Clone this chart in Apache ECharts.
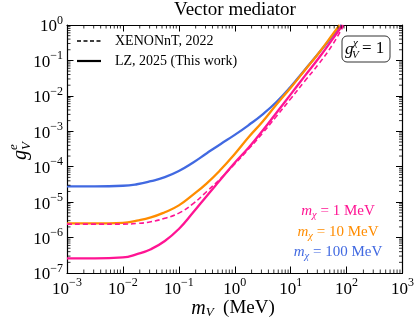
<!DOCTYPE html>
<html>
<head>
<meta charset="utf-8">
<script src="https://cdn.jsdelivr.net/npm/echarts@6/dist/echarts.min.js"></script>
<style>
  html, body { margin: 0; padding: 0; background: #fff; }
  #main { width: 417px; height: 324px; }
</style>
</head>
<body>
<div id="main"></div>
<script>
// m_V sample positions (MeV), quarter-decade steps
const mGrid = [0.001, 0.00316, 0.01, 0.0178, 0.0316, 0.0562, 0.1, 0.178, 0.316, 0.562, 1, 1.78, 3.16, 5.62, 10, 17.8, 31.6, 56.2]

// m_chi = 100 MeV (LZ)
const blueMv = [...mGrid, 80]
const blueG = [2.8e-5, 2.8e-5, 2.9e-5, 3.2e-5, 3.9e-5, 5.1e-5, 7.6e-5, 1.3e-4, 2.4e-4, 4.4e-4, 7.9e-4, 1.5e-3, 3.0e-3, 6.8e-3, 1.8e-2, 5.4e-2, 0.16, 0.49, 1.0]
// m_chi = 10 MeV (LZ)
const orangeMv = [...mGrid, 75]
const orangeG = [2.5e-6, 2.5e-6, 2.6e-6, 3.0e-6, 3.7e-6, 5.2e-6, 8.1e-6, 1.6e-5, 3.4e-5, 8.3e-5, 2.3e-4, 6.9e-4, 1.9e-3, 5.8e-3, 1.7e-2, 5.2e-2, 0.16, 0.54, 1.0]
// m_chi = 1 MeV (LZ)
const pinkMv = [...mGrid, 85]
const pinkG = [2.6e-7, 2.6e-7, 2.75e-7, 3.4e-7, 4.7e-7, 8.0e-7, 1.75e-6, 5.0e-6, 1.5e-5, 4.4e-5, 1.3e-4, 3.5e-4, 1.05e-3, 3.4e-3, 1.1e-2, 3.6e-2, 0.115, 0.40, 1.0]
// m_chi = 1 MeV (XENONnT, 2022)
const xenonMv = [...mGrid, 89]
const xenonG = [2.4e-6, 2.4e-6, 2.4e-6, 2.5e-6, 2.8e-6, 3.5e-6, 4.9e-6, 8.9e-6, 2.0e-5, 4.7e-5, 1.2e-4, 3.2e-4, 8.9e-4, 2.7e-3, 8.3e-3, 2.6e-2, 7.9e-2, 0.28, 1.0]

const xMin = 1e-3, xMax = 1e3
const yMin = 1e-7, yMax = 1

const SERIF = '"Liberation Serif", "DejaVu Serif", serif'
const PINK = '#ff1493', ORANGE = '#ff8c00', BLUE = '#4169e1'

const zip = (xs, ys) => xs.map((x, i) => [x, ys[i]])

// minor tick positions 2..9 x 10^k
function minorTicks(lo, hi) {
  const out = []
  for (let k = lo; k < hi; k++) for (let j = 2; j <= 9; j++) out.push(j * Math.pow(10, k))
  return out
}
const xMinor = minorTicks(-3, 3).map(v => [v, yMin])
const yMinor = minorTicks(-7, 0).map(v => [xMin, v])

function powLabel(v) {
  const e = Math.round(Math.log10(v))
  return '{b|10}{s|' + String(e).replace('-', '\u2212') + '}'
}
const labelRich = {
  b: { fontFamily: SERIF, fontSize: 17, color: '#000', lineHeight: 21, verticalAlign: 'bottom' },
  s: { fontFamily: SERIF, fontSize: 12, color: '#000', verticalAlign: 'top' },
}

const axisCommon = {
  type: 'log', logBase: 10,
  axisLine: { show: true, lineStyle: { color: '#000', width: 1.2 } },
  axisTick: { show: true, inside: true, length: 6.5, lineStyle: { color: '#000', width: 1 } },
  splitLine: { show: false },
  minorTick: { show: false },
}

function massLabel(text, y, color) {
  return { type: 'text', x: 338, y: y, style: { text: text, align: 'center', verticalAlign: 'middle',
    rich: { i: { fontFamily: SERIF, fontStyle: 'italic', fontSize: 15, fill: color, lineHeight: 17, verticalAlign: 'top' },
            u: { fontFamily: SERIF, fontStyle: 'italic', fontSize: 10.5, fill: color, verticalAlign: 'bottom' },
            n: { fontFamily: SERIF, fontSize: 15, fill: color, lineHeight: 17, verticalAlign: 'top' } } } }
}

const chart = echarts.init(document.getElementById('main'), null, { renderer: 'canvas' })

chart.setOption({
  animation: false,
  backgroundColor: '#fff',
  grid: { left: 67, right: 14, top: 25, bottom: 51, containLabel: false },
  xAxis: [
    { ...axisCommon, min: xMin, max: xMax, position: 'bottom',
      axisLabel: { formatter: powLabel, rich: labelRich, margin: 4 } },
    { ...axisCommon, min: xMin, max: xMax, position: 'top', axisLabel: { show: false } },
  ],
  yAxis: [
    { ...axisCommon, min: yMin, max: yMax, position: 'left',
      axisLabel: { formatter: powLabel, rich: labelRich, margin: 4 } },
    { ...axisCommon, min: yMin, max: yMax, position: 'right', axisLabel: { show: false } },
  ],
  series: [
    { name: 'mchi100', type: 'line', data: zip(blueMv, blueG), smooth: 0.5, showSymbol: false,
      lineStyle: { color: BLUE, width: 2.3 }, clip: true, z: 3 },
    { name: 'mchi10', type: 'line', data: zip(orangeMv, orangeG), smooth: 0.5, showSymbol: false,
      lineStyle: { color: ORANGE, width: 2.3 }, clip: true, z: 4 },
    { name: 'xenon', type: 'line', data: zip(xenonMv, xenonG), smooth: 0.5, showSymbol: false,
      lineStyle: { color: PINK, width: 1.6, type: [5, 3] }, clip: true, z: 5 },
    { name: 'mchi1', type: 'line', data: zip(pinkMv, pinkG), smooth: 0.5, showSymbol: false,
      lineStyle: { color: PINK, width: 2.3 }, clip: true, z: 6 },
    { type: 'custom', silent: true, clip: false, data: xMinor, z: 10,
      renderItem(params, api) {
        const x = api.value(0)
        const b = api.coord([x, yMin]), t = api.coord([x, yMax])
        const st = { stroke: '#000', lineWidth: 0.8 }
        return { type: 'group', children: [
          { type: 'line', shape: { x1: b[0], y1: b[1], x2: b[0], y2: b[1] - 3.5 }, style: st },
          { type: 'line', shape: { x1: t[0], y1: t[1], x2: t[0], y2: t[1] + 3.5 }, style: st },
        ] }
      } },
    { type: 'custom', silent: true, clip: false, data: yMinor, z: 10,
      renderItem(params, api) {
        const y = api.value(1)
        const l = api.coord([xMin, y]), r = api.coord([xMax, y])
        const st = { stroke: '#000', lineWidth: 0.8 }
        return { type: 'group', children: [
          { type: 'line', shape: { x1: l[0], y1: l[1], x2: l[0] + 3.5, y2: l[1] }, style: st },
          { type: 'line', shape: { x1: r[0], y1: r[1], x2: r[0] - 3.5, y2: r[1] }, style: st },
        ] }
      } },
  ],
  graphic: [
    // title
    { type: 'text', x: 235, y: 1,
      style: { text: 'Vector mediator', align: 'center', fontFamily: SERIF, fontSize: 19, fill: '#000' } },
    // legend
    { type: 'line', shape: { x1: 77, y1: 41, x2: 101, y2: 41 }, style: { stroke: '#000', lineWidth: 1.5, lineDash: [4, 2.5] } },
    { type: 'text', x: 115, y: 41, style: { text: 'XENONnT, 2022', fontFamily: SERIF, fontSize: 14, fill: '#000', verticalAlign: 'middle' } },
    { type: 'line', shape: { x1: 77, y1: 61, x2: 101, y2: 61 }, style: { stroke: '#000', lineWidth: 2.2 } },
    { type: 'text', x: 115, y: 61, style: { text: 'LZ, 2025 (This work)', fontFamily: SERIF, fontSize: 14, fill: '#000', verticalAlign: 'middle' } },
    // coupling box
    { type: 'rect', shape: { x: 342, y: 36, width: 48, height: 26, r: 5 }, style: { fill: '#fff', stroke: '#333', lineWidth: 1 }, z: 20 },
    { type: 'text', x: 345, y: 50, z: 21, style: { text: 'g', fontFamily: SERIF, fontStyle: 'italic', fontSize: 17, fill: '#000', verticalAlign: 'middle' } },
    { type: 'text', x: 353, y: 43, z: 21, style: { text: '\u03c7', fontFamily: SERIF, fontStyle: 'italic', fontSize: 11, fill: '#000', verticalAlign: 'middle' } },
    { type: 'text', x: 352, y: 55, z: 21, style: { text: 'V', fontFamily: SERIF, fontStyle: 'italic', fontSize: 11, fill: '#000', verticalAlign: 'middle' } },
    { type: 'text', x: 362, y: 49, z: 21, style: { text: '= 1', fontFamily: SERIF, fontSize: 17, fill: '#000', verticalAlign: 'middle' } },
    // mass annotations
    massLabel('{i|m}{u|\u03c7}{n| = 1 MeV}', 212, PINK),
    massLabel('{i|m}{u|\u03c7}{n| = 10 MeV}', 233, ORANGE),
    massLabel('{i|m}{u|\u03c7}{n| = 100 MeV}', 253, BLUE),
    // x axis name
    { type: 'text', x: 233, y: 309, style: { text: '{i|m}{u|V}{n|  (MeV)}', align: 'center', verticalAlign: 'middle',
      rich: { i: { fontFamily: SERIF, fontStyle: 'italic', fontSize: 20, fill: '#000', lineHeight: 21, verticalAlign: 'top' },
              u: { fontFamily: SERIF, fontStyle: 'italic', fontSize: 13, fill: '#000', verticalAlign: 'bottom' },
              n: { fontFamily: SERIF, fontSize: 19, fill: '#000', lineHeight: 21, verticalAlign: 'top' } } } },
    // y axis name (rotated)
    { type: 'group', x: 21, y: 160, rotation: Math.PI / 2, children: [
      { type: 'text', x: 0, y: 0, style: { text: 'g', fontFamily: SERIF, fontStyle: 'italic', fontSize: 20, fill: '#000', verticalAlign: 'middle' } },
      { type: 'text', x: 10, y: -7, style: { text: 'e', fontFamily: SERIF, fontStyle: 'italic', fontSize: 13, fill: '#000', verticalAlign: 'middle' } },
      { type: 'text', x: 10, y: 6, style: { text: 'V', fontFamily: SERIF, fontStyle: 'italic', fontSize: 13, fill: '#000', verticalAlign: 'middle' } },
    ] },
  ],
})
</script>
</body>
</html>
